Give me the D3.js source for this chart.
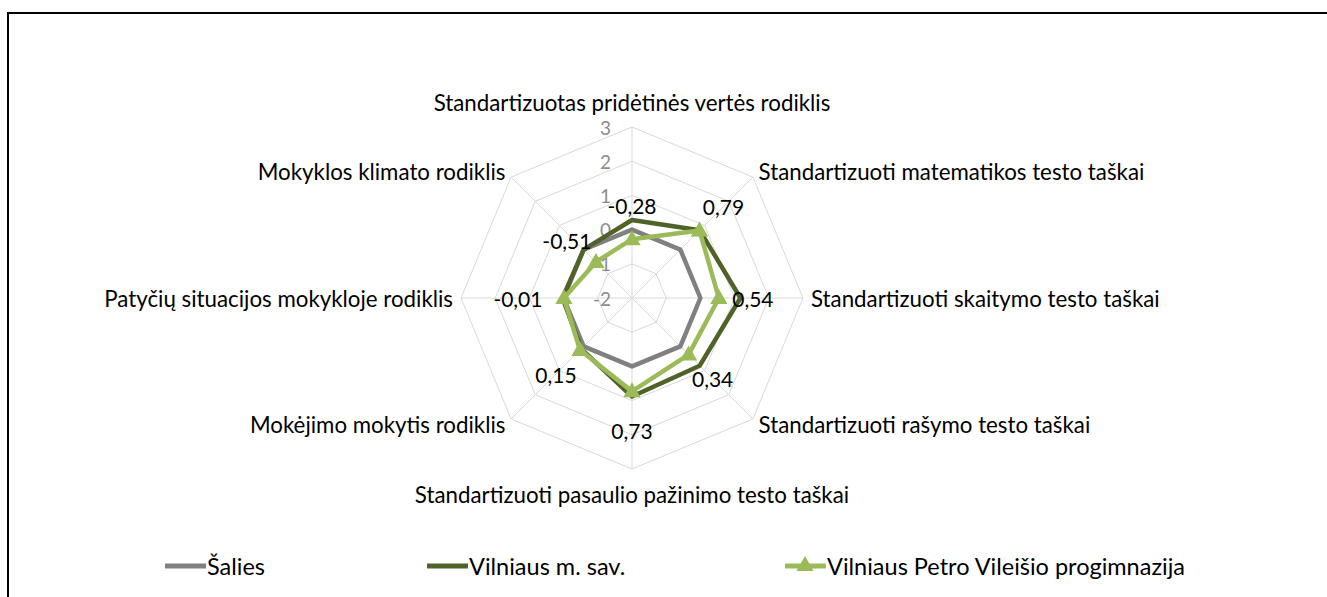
<!DOCTYPE html>
<html>
<head>
<meta charset="utf-8">
<script src="https://cdn.jsdelivr.net/npm/d3@7"></script>
<style>
    body { margin: 0; background: #fff; }
    svg { display: block; font-family: Lato, sans-serif; }
</style>
</head>
<body>
<svg id="chart" width="1327" height="597"></svg>
<script>
// radar chart data
const axes = [
    "Standartizuotas pridėtinės vertės rodiklis",
    "Standartizuoti matematikos testo taškai",
    "Standartizuoti skaitymo testo taškai",
    "Standartizuoti rašymo testo taškai",
    "Standartizuoti pasaulio pažinimo testo taškai",
    "Mokėjimo mokytis rodiklis",
    "Patyčių situacijos mokykloje rodiklis",
    "Mokyklos klimato rodiklis"
];
const seriesNames = ["Šalies", "Vilniaus m. sav.", "Vilniaus Petro Vileišio progimnazija"];
const salies = [0, 0, 0, 0, 0, 0, 0, 0];
const vilnius = [0.28, 0.80, 1.17, 0.80, 0.88, 0.10, 0.03, 0.00];
const mokykla = [-0.28, 0.79, 0.54, 0.34, 0.73, 0.15, -0.01, -0.51];
const ticks = [-2, -1, 0, 1, 2, 3];
const colors = ["#808080", "#4f6228", "#9bbb59"];

const svg = d3.select("#chart");
const cx = 632, cy = 298, outer = 171;

// frame (only top and left edges visible in the picture)
svg.append("rect")
    .attr("x", 8).attr("y", 13)
    .attr("width", 1400).attr("height", 700)
    .attr("fill", "none").attr("stroke", "#000").attr("stroke-width", 2);

const r = d3.scaleLinear().domain([-2, 3]).range([0, outer]);
const angle = i => i * 2 * Math.PI / axes.length;
const px = (i, v) => cx + Math.sin(angle(i)) * r(v);
const py = (i, v) => cy - Math.cos(angle(i)) * r(v);

// grid rings
const grid = svg.append("g");
ticks.slice(1).forEach(t => {
    grid.append("polygon")
        .attr("points", axes.map((a, i) => `${px(i, t)},${py(i, t)}`).join(" "))
        .attr("fill", "none").attr("stroke", "#d9d9d9").attr("stroke-width", 1);
});
axes.forEach((a, i) => {
    grid.append("line")
        .attr("x1", cx).attr("y1", cy)
        .attr("x2", px(i, 3)).attr("y2", py(i, 3))
        .attr("stroke", "#d9d9d9").attr("stroke-width", 1);
});

// tick labels (left of the vertical spoke)
ticks.forEach(t => {
    svg.append("text")
        .attr("x", cx - 21).attr("y", cy - r(t))
        .attr("text-anchor", "end").attr("dominant-baseline", "central")
        .attr("font-size", 19).attr("fill", "#8c8c8c")
        .text(t);
});

// axis labels
axes.forEach((a, i) => {
    const s = Math.sin(angle(i)), c = Math.cos(angle(i));
    const x = px(i, 3) + s * 8, y = py(i, 3) - c * 8;
    let anchor = "middle", dy = 0;
    if (s > 0.1) anchor = "start";
    if (s < -0.1) anchor = "end";
    if (Math.abs(s) < 0.1) dy = c > 0 ? -17 : 17;
    svg.append("text")
        .attr("x", x).attr("y", y + dy)
        .attr("text-anchor", anchor).attr("dominant-baseline", "central")
        .attr("font-size", 22.3).attr("fill", "#000")
        .text(a);
});

// series lines
const line = d3.line().x(d => d[0]).y(d => d[1]).curve(d3.curveLinearClosed);
[salies, vilnius, mokykla].forEach((vals, k) => {
    svg.append("path")
        .attr("d", line(vals.map((v, i) => [px(i, v), py(i, v)])))
        .attr("fill", "none").attr("stroke", colors[k])
        .attr("stroke-width", 4.5).attr("stroke-linejoin", "round");
});

// triangle markers
const tri = d3.symbol().type(d3.symbolTriangle).size(130);
mokykla.forEach((v, i) => {
    svg.append("path")
        .attr("d", tri())
        .attr("transform", `translate(${px(i, v)},${py(i, v) + 1})`)
        .attr("fill", colors[2]);
});

// data labels, pushed out along each spoke (small nudges like Excel's placement)
const fmt = v => v.toFixed(2).replace(".", ",");
const nudgeX = [0, 0, 0, 0, 0, 0, -12, -5];
const nudgeY = [0, 0, 0, 0, 5, 0, 0, 3];
mokykla.forEach((v, i) => {
    const s = Math.sin(angle(i)), c = Math.cos(angle(i));
    svg.append("text")
        .attr("x", px(i, v) + s * 34 + nudgeX[i])
        .attr("y", py(i, v) - c * 34 + nudgeY[i])
        .attr("text-anchor", "middle").attr("dominant-baseline", "central")
        .attr("font-size", 21).attr("fill", "#000")
        .text(fmt(v));
});

// legend
const legendX = [165, 427, 785];
seriesNames.forEach((n, k) => {
    const g = svg.append("g").attr("transform", `translate(${legendX[k]},566)`);
    g.append("line").attr("x1", 0).attr("x2", 41)
        .attr("stroke", colors[k]).attr("stroke-width", 5);
    if (k === 2) {
        g.append("path").attr("d", tri()).attr("transform", "translate(20,0)").attr("fill", colors[2]);
    }
    g.append("text").attr("x", 42).attr("y", 0)
        .attr("dominant-baseline", "central")
        .attr("font-size", 23.5).attr("fill", "#000")
        .text(n);
});
</script>
</body>
</html>
